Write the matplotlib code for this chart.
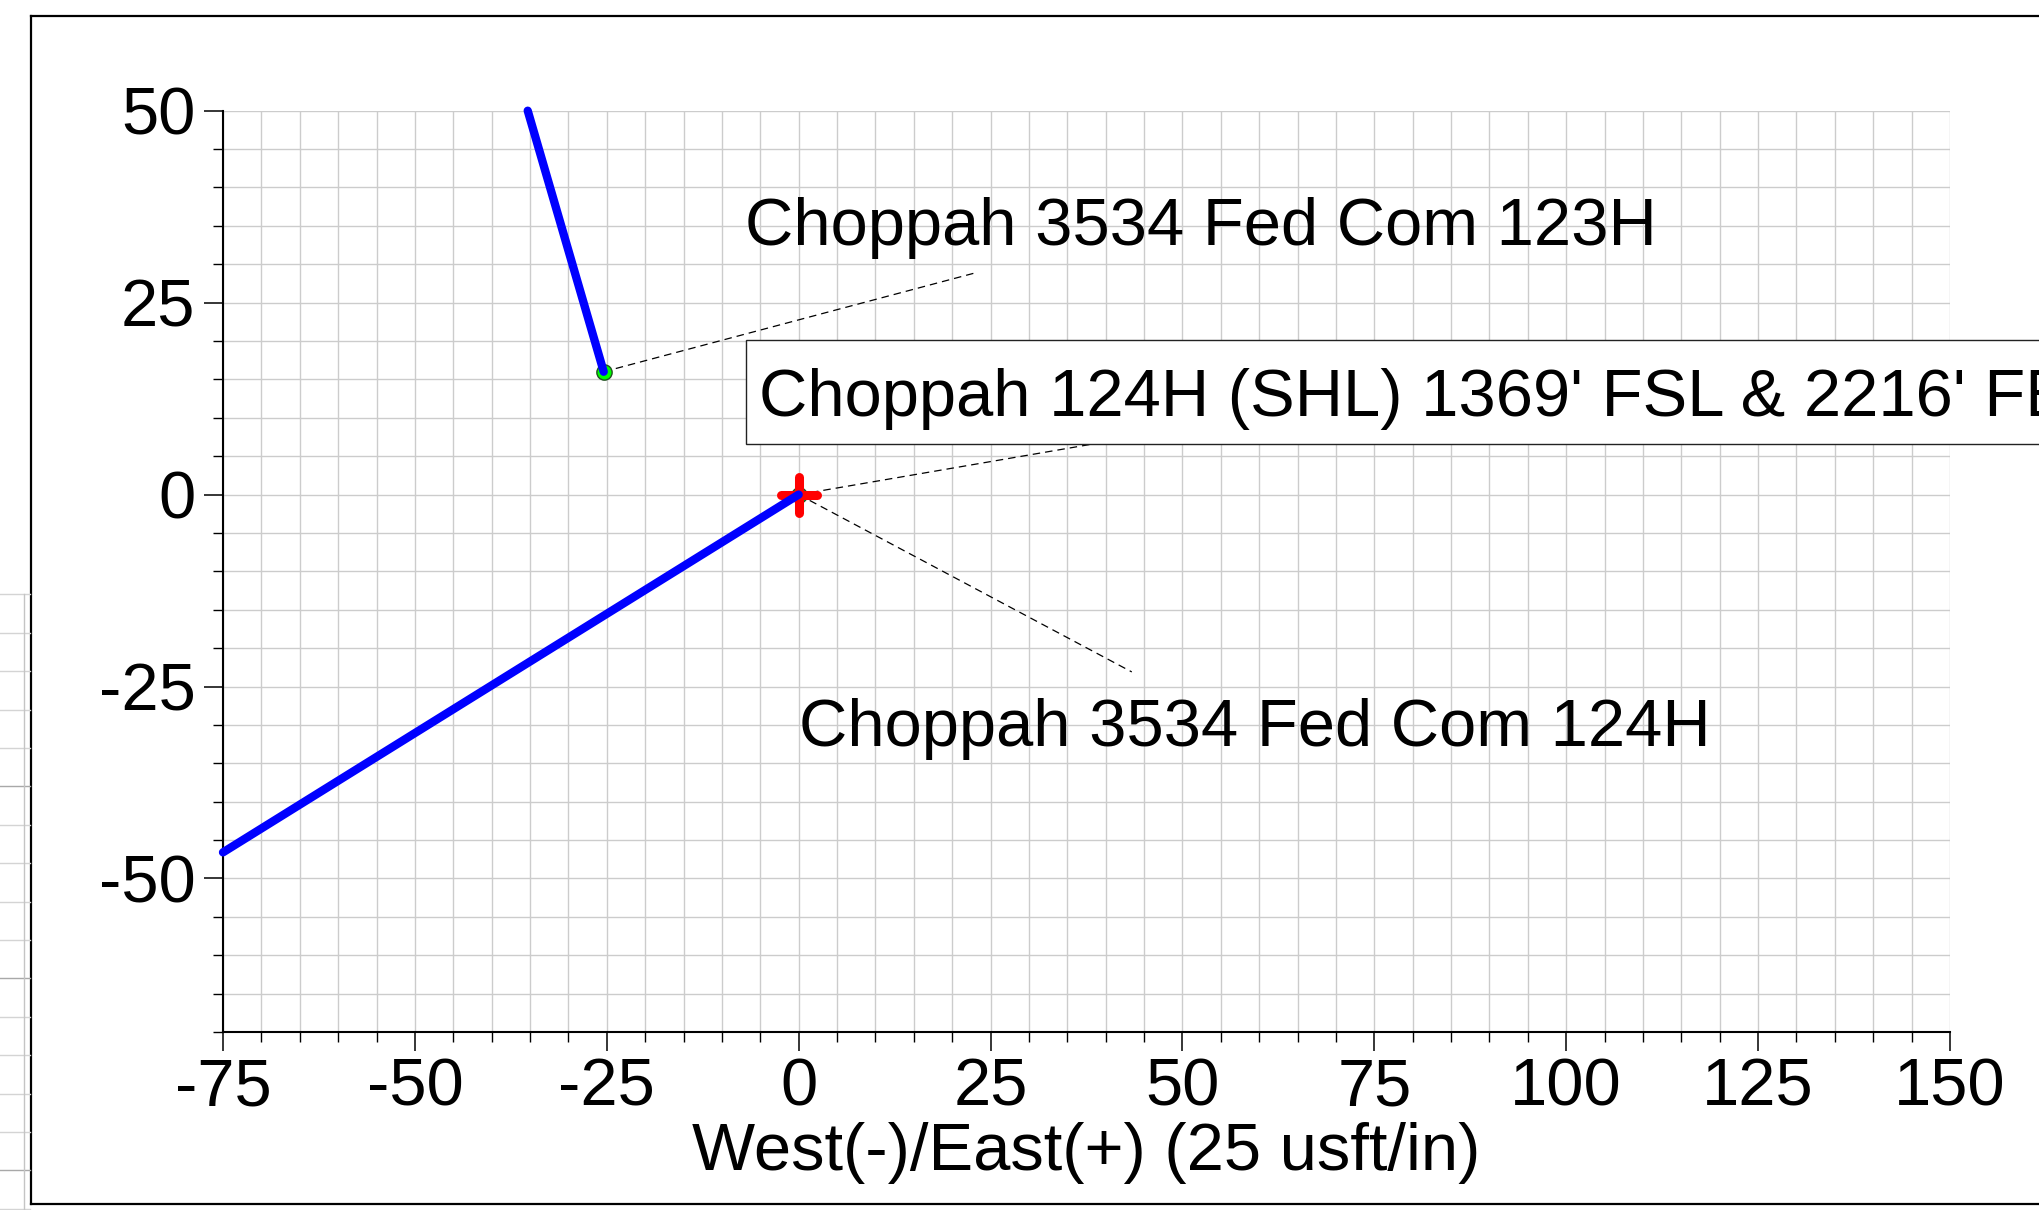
import numpy as np
import matplotlib.pyplot as plt
from matplotlib.lines import Line2D
from matplotlib.patches import Rectangle
from matplotlib.markers import MarkerStyle
from matplotlib.ticker import MultipleLocator

plt.rcParams['font.family'] = ['Liberation Sans', 'DejaVu Sans']
plt.rcParams['axes.unicode_minus'] = False

# well paths in plan view (usft): east/west and north/south
ew_123h = [-25.4, -35.3]
ns_123h = [16.0, 50.0]
ew_124h = [0.0, -75.0]
ns_124h = [0.0, -46.6]

# surface hole locations
shl_ew = [-25.4, 0.0]
shl_ns = [16.0, 0.0]

# labels
label_123h = 'Choppah 3534 Fed Com 123H'
label_124h = 'Choppah 3534 Fed Com 124H'
label_shl = "Choppah 124H (SHL) 1369' FSL & 2216' FEL"
xlabel = 'West(-)/East(+) (25 usft/in)'

W, H = 2040, 1210
FS = 48.2


def px(x, y):
    # pixel position (from top-left) -> figure fraction
    return x / W, 1 - y / H


fig = plt.figure(figsize=(W / 100, H / 100), dpi=100)
ax = fig.add_axes([223 / W, 1 - 1032 / H, 1727 / W, 921.3 / H])
ax.set_xlim(-75, 150)
ax.set_ylim(-70, 50)

# grid and ticks
ax.xaxis.set_major_locator(MultipleLocator(25))
ax.xaxis.set_minor_locator(MultipleLocator(5))
ax.yaxis.set_major_locator(MultipleLocator(25))
ax.yaxis.set_minor_locator(MultipleLocator(5))
ax.grid(which='both', color='#cccccc', lw=1)
ax.set_axisbelow(True)
ax.tick_params(which='major', length=14, width=1.1, labelsize=FS)
ax.tick_params(which='minor', length=7, width=1)
ax.tick_params(axis='y', which='major', pad=5.8)
ax.tick_params(axis='x', which='major', pad=4)
for s in ['top', 'right']:
    ax.spines[s].set_visible(False)
for s in ['left', 'bottom']:
    ax.spines[s].set_linewidth(1.5)

# leader lines
ax.plot([shl_ew[0], 23.1], [shl_ns[0], 28.9], color='k', lw=0.9, ls=(0, (6, 4)), zorder=2)
ax.plot([shl_ew[1], 38.0], [shl_ns[1], 6.53], color='k', lw=0.9, ls=(0, (6, 4)), zorder=2)
ax.plot([shl_ew[1], 43.4], [shl_ns[1], -23.1], color='k', lw=0.9, ls=(0, (6, 4)), zorder=2)

# surface markers and well paths
ax.plot(shl_ew, shl_ns, 'o', ms=11, mfc='#00ff00', mec='#205020', mew=1, zorder=3, clip_on=False)
ax.plot(shl_ew[1], shl_ns[1], marker=MarkerStyle('+', capstyle='round'), ms=26, mew=6.5,
        color='red', zorder=3.5, clip_on=False)
ax.plot(ew_123h, ns_123h, color='#0000ff', lw=6, solid_capstyle='round', zorder=4, clip_on=False)
ax.plot(ew_124h, ns_124h, color='#0000ff', lw=6, solid_capstyle='round', zorder=4, clip_on=False)

# labels
ax.text(-7.05, 32.5, label_123h, fontsize=FS, ha='left', va='baseline', zorder=6)
ax.text(0.0, -32.8, label_124h, fontsize=FS, ha='left', va='baseline', zorder=6)
ax.add_patch(Rectangle((-6.87, 6.53), 300, 13.57, fc='white', ec='#222222', lw=1,
                       clip_on=False, zorder=5))
ax.text(-5.17, 10.2, label_shl, fontsize=FS, ha='left', va='baseline', zorder=6, clip_on=False)

ax.set_xlabel(xlabel, fontsize=FS)
ax.xaxis.set_label_coords(0.5, (1032 - 1170) / 921.3)
ax.xaxis.label.set_va('baseline')

# outer frame
fl, ft, fb = 30.7, 15.5, 1204
fig.add_artist(Line2D(*zip(px(fl, ft), px(W + 10, ft)), color='k', lw=1.6))
fig.add_artist(Line2D(*zip(px(fl, ft), px(fl, fb)), color='k', lw=1.6))
fig.add_artist(Line2D(*zip(px(fl, fb), px(W + 10, fb)), color='k', lw=1.6))

# bits of the sheet behind the frame
for i, yy in enumerate(np.arange(594.4, 1210, 38.4)):
    c = '#a8a8a8' if i % 5 == 0 and i > 0 else '#d4d4d4'
    fig.add_artist(Line2D(*zip(px(0, yy), px(fl - 1, yy)), color=c, lw=1))
fig.add_artist(Line2D(*zip(px(24.3, 594.4), px(24.3, H)), color='#c4c4c4', lw=1))

fig.savefig('out.png', dpi=100)
